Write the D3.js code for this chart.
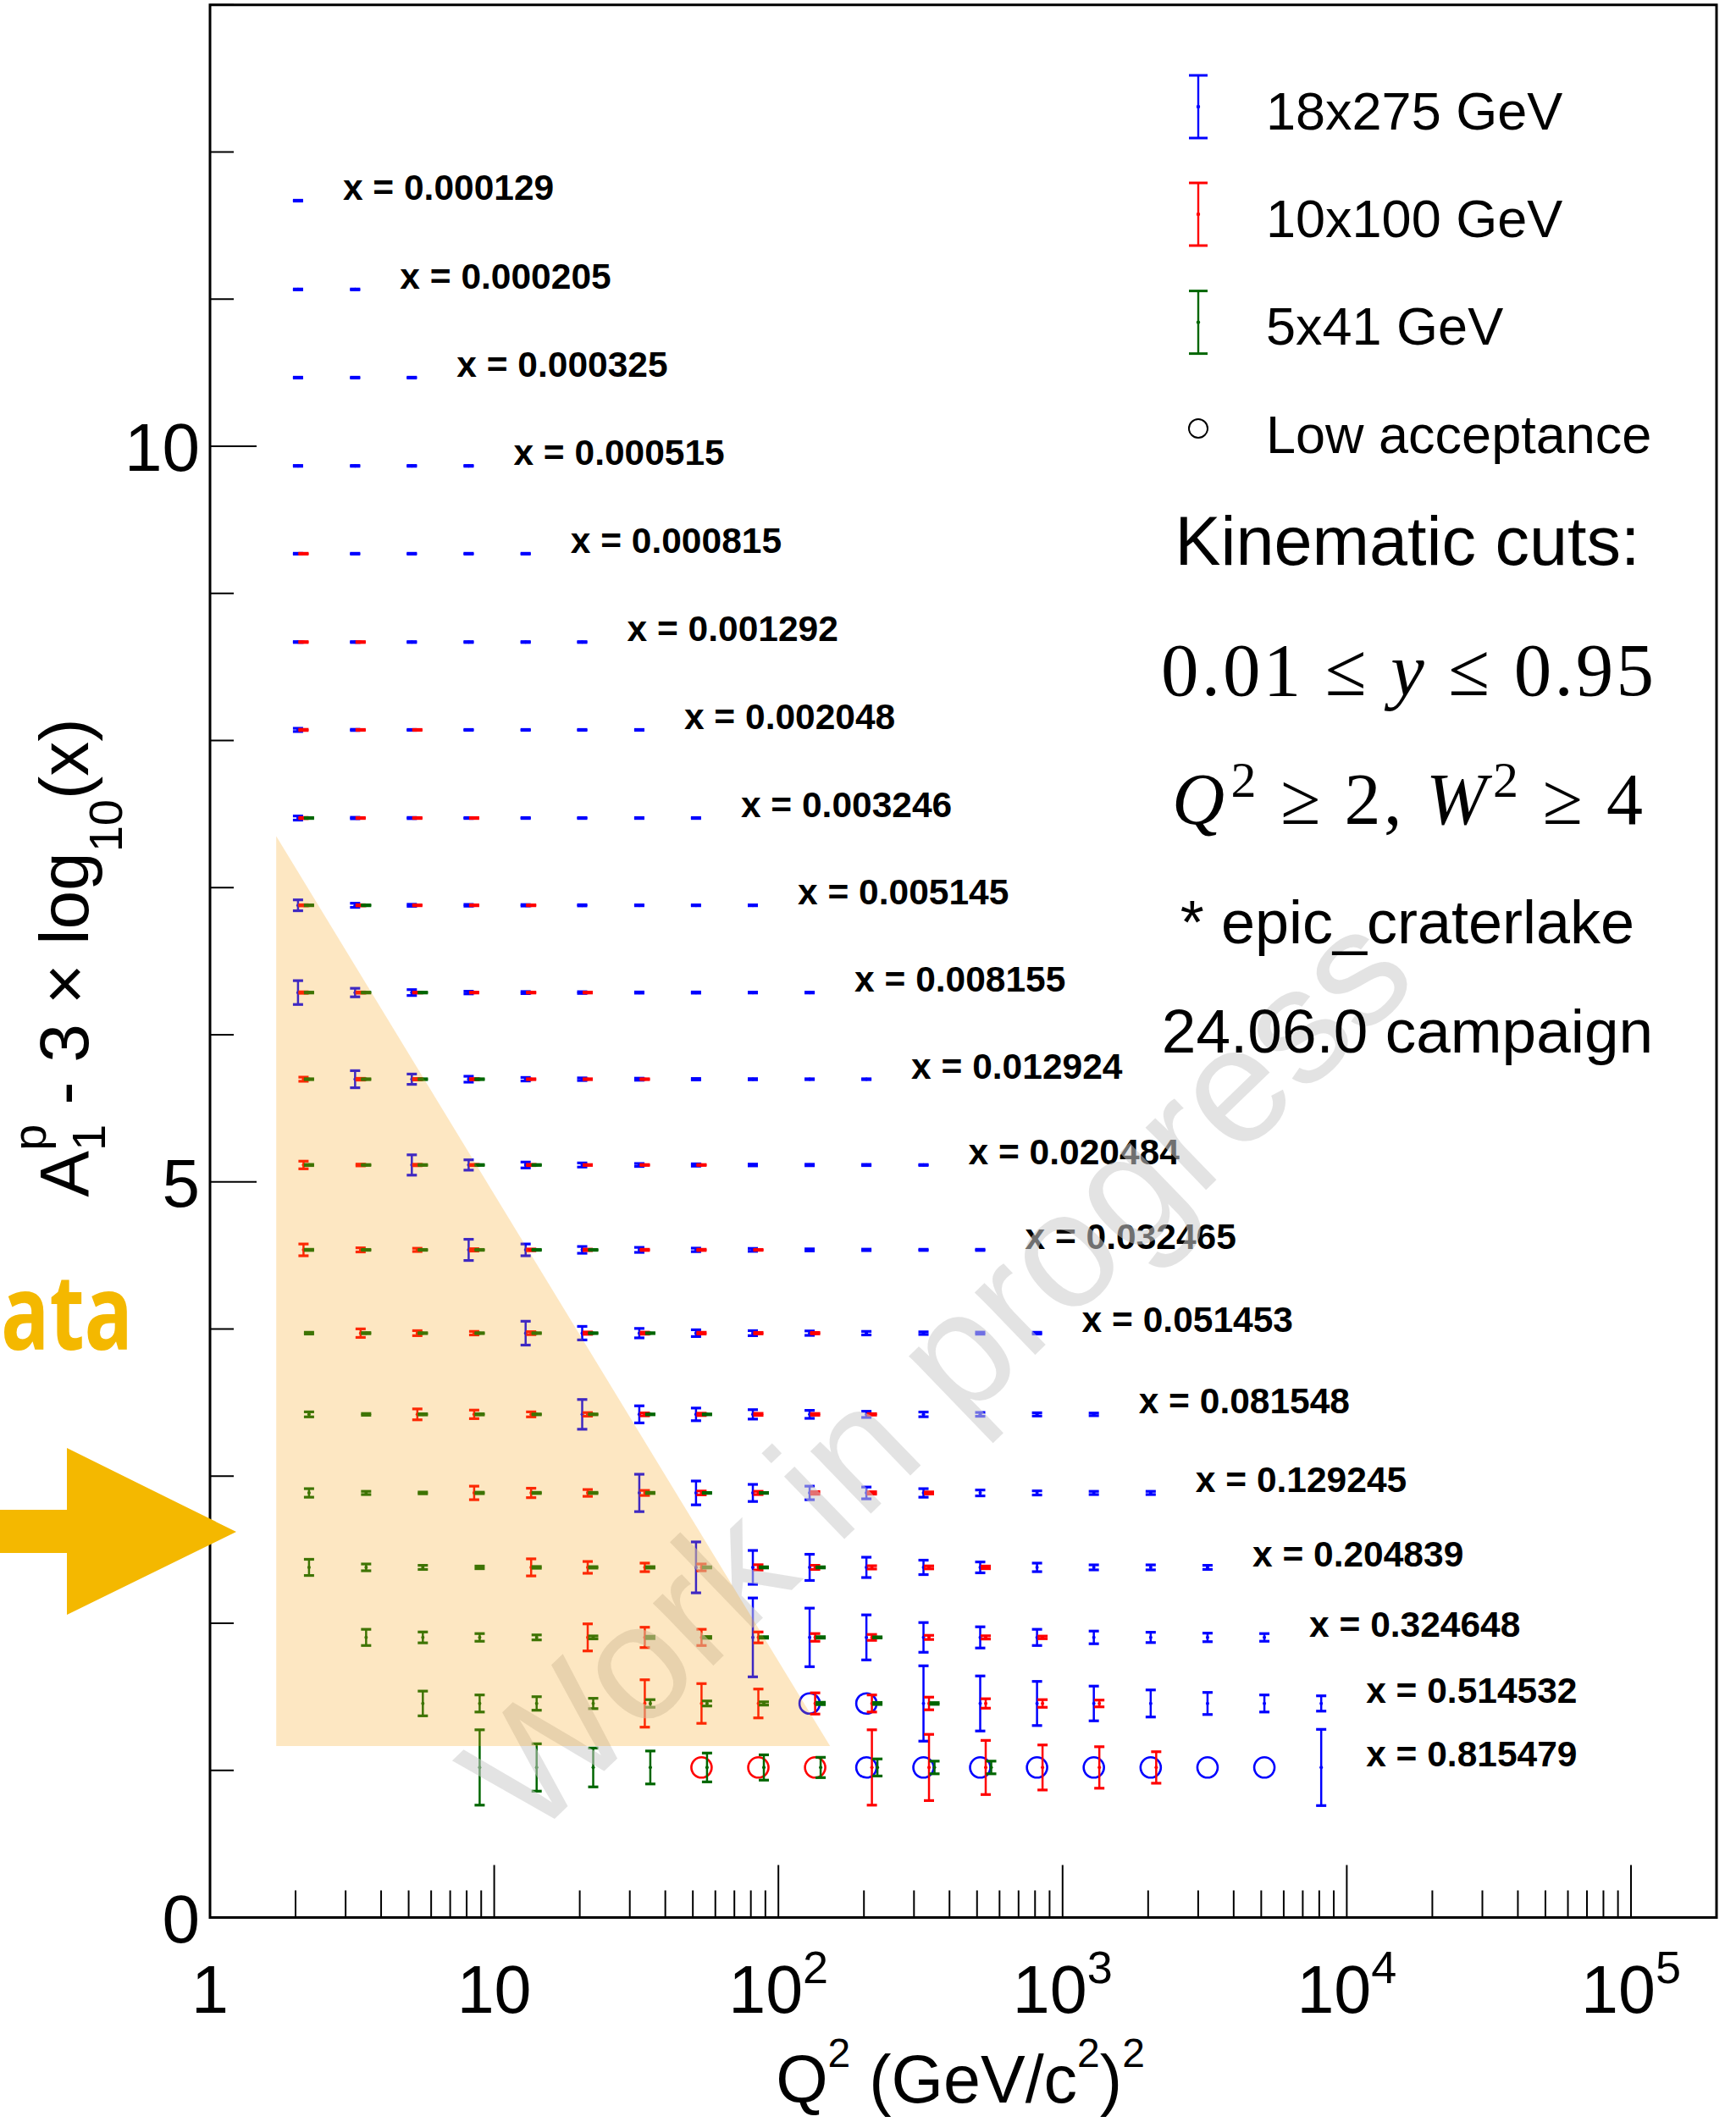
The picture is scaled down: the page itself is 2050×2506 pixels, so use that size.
<!DOCTYPE html>
<html><head><meta charset="utf-8">
<script src="https://cdn.jsdelivr.net/npm/d3@7"></script>
<style>body{margin:0;background:#fff}svg{display:block}</style>
</head><body>
<script>
// ---------------- DATA ----------------
const xBinLabels = ["0.000129","0.000205","0.000325","0.000515","0.000815","0.001292","0.002048","0.003246","0.005145","0.008155","0.012924","0.020484","0.032465","0.051453","0.081548","0.129245","0.204839","0.324648","0.514532","0.815479"];
const a1Values = [0.001,0.001,0.002,0.002,0.003,0.003,0.006,0.007,0.014,0.021,0.032,0.049,0.072,0.106,0.154,0.220,0.314,0.438,0.589,0.754];
const q2Centers = [2.04,3.24,5.13,8.13,12.9,20.4,32.4,51.3,81.3,128.8,204,324,513,813,1288,2042,3236,5129,8128];

const seriesNames = ["18x275 GeV","10x100 GeV","5x41 GeV"];
const seriesColors = ["#0000ff","#ff0000","#006600"];

const firstBin18x275 = [0,0,0,0,0,0,0,0,0,0,1,2,3,4,5,6,7,8,9,10];
const err18x275 = [
[0.003],
[0.003,0.003],
[0.003,0.003,0.003],
[0.003,0.003,0.003,0.003],
[0.003,0.003,0.003,0.003,0.003],
[0.003,0.003,0.003,0.003,0.003,0.003],
[0.011,0.004,0.003,0.003,0.003,0.003,0.003],
[0.014,0.005,0.004,0.003,0.003,0.003,0.003,0.003],
[0.037,0.014,0.007,0.006,0.005,0.004,0.003,0.003,0.003],
[0.081,0.029,0.020,0.009,0.007,0.006,0.004,0.004,0.003,0.003],
[0.058,0.035,0.020,0.012,0.009,0.007,0.005,0.004,0.003,0.003],
[0.069,0.035,0.020,0.014,0.010,0.008,0.006,0.005,0.004,0.003],
[0.072,0.040,0.023,0.017,0.012,0.010,0.007,0.005,0.004,0.004],
[0.081,0.046,0.032,0.023,0.017,0.015,0.012,0.009,0.007,0.006],
[0.101,0.058,0.043,0.032,0.027,0.021,0.016,0.013,0.011,0.009],
[0.127,0.081,0.058,0.046,0.040,0.029,0.020,0.014,0.011,0.011],
[0.173,0.115,0.089,0.069,0.049,0.037,0.029,0.017,0.017,0.014],
[0.268,0.199,0.153,0.101,0.072,0.055,0.043,0.035,0.029,0.026],
[null,null,0.256,0.187,0.150,0.118,0.092,0.075,0.058,0.052],
[null,null,null,null,null,null,null,null,0.259]
];
const lowAcc18x275 = [[18,9],[18,10],[19,10],[19,11],[19,12],[19,13],[19,14],[19,15],[19,16],[19,17]];

const firstBin10x100 = [null,null,null,null,0,0,0,0,0,0,0,0,0,1,2,3,4,5,6,7];
const err10x100 = [
[],[],[],[],
[0.003],
[0.003,0.003],
[0.004,0.003,0.003],
[0.004,0.003,0.003,0.003],
[0.004,0.004,0.003,0.003,0.003],
[0.005,0.004,0.003,0.003,0.003,0.003],
[0.014,0.006,0.005,0.004,0.003,0.003,0.003],
[0.026,0.006,0.005,0.004,0.004,0.003,0.003,0.003],
[0.040,0.014,0.011,0.008,0.006,0.005,0.004,0.004,0.003],
[0.029,0.017,0.012,0.010,0.008,0.007,0.006,0.005,0.005],
[0.037,0.029,0.017,0.012,0.010,0.008,0.007,0.006,0.005],
[0.046,0.032,0.023,0.017,0.013,0.011,0.009,0.008,0.007],
[0.058,0.040,0.029,0.023,0.018,0.014,0.011,0.010,0.009],
[0.092,0.069,0.055,0.037,0.026,0.020,0.014,0.011,0.009],
[0.161,0.135,0.098,0.072,0.058,0.043,0.032,0.026,0.023],
[null,null,null,0.256,0.225,0.184,0.153,0.141,0.107]
];
const lowAcc10x100 = [[19,7],[19,8],[19,9]];

const firstBin5x41 = [null,null,null,null,null,null,null,0,0,0,0,0,0,0,0,0,0,1,2,3];
const err5x41 = [
[],[],[],[],[],[],[],
[0.003],
[0.003,0.003],
[0.003,0.003,0.003],
[0.003,0.003,0.003,0.003],
[0.004,0.003,0.003,0.003,0.003],
[0.004,0.003,0.003,0.003,0.003,0.003],
[0.006,0.004,0.003,0.003,0.003,0.003,0.003],
[0.017,0.006,0.004,0.004,0.003,0.003,0.003,0.003],
[0.029,0.011,0.006,0.005,0.004,0.004,0.004,0.003,0.003],
[0.055,0.023,0.014,0.009,0.006,0.005,0.005,0.004,0.004,0.004],
[0.055,0.037,0.026,0.017,0.010,0.008,0.006,0.005,0.005,0.004],
[0.084,0.058,0.046,0.035,0.026,0.017,0.011,0.008,0.007,0.006],
[0.256,0.161,0.132,0.112,0.098,0.086,0.069,0.058,0.043,0.043]
];
const lowAcc5x41 = [];

const xTickValues = [1,10,100,1000,10000,100000];
const yTickValues = [0,5,10];
const xDomain = [1, 2e5];
const yDomain = [0, 13];
// shaded region (Q2, y) corners
const shadedRegion = [[1.71,7.35],[1.71,1.165],[152,1.165]];
const kinematicLines = ["Kinematic cuts:","* epic_craterlake","24.06.0 campaign"];

// ---------------- DRAW ----------------
const W = 2050, H = 2506;
const SANS = "'Liberation Sans', Arial, Helvetica, sans-serif";
const SERIF = "'Liberation Serif', 'Times New Roman', serif";
const svg = d3.select("body").append("svg").attr("width", W).attr("height", H)
  .style("font-family", SANS);

const x = d3.scaleLog().domain(xDomain).range([248, 2027]);
const y = d3.scaleLinear().domain(yDomain).range([2264.5, 5.75]);
const rowValue = r => a1Values[r] - 3 * Math.log10(+xBinLabels[r]);

const seriesData = [
  {first: firstBin18x275, err: err18x275, low: lowAcc18x275, dx: 0},
  {first: firstBin10x100, err: err10x100, low: lowAcc10x100, dx: 6.5},
  {first: firstBin5x41, err: err5x41, low: lowAcc5x41, dx: 13}
];

const gPts = svg.append("g");
const lastBin = xBinLabels.map(() => 0);
seriesData.forEach((s, si) => {
  const col = seriesColors[si];
  const g = gPts.append("g");
  const pts = [];
  s.err.forEach((row, r) => {
    if (s.first[r] === null) return;
    row.forEach((e, i) => {
      const k = s.first[r] + i;
      lastBin[r] = Math.max(lastBin[r], k);
      if (e !== null) pts.push({r, k, e});
    });
  });
  s.low.forEach(([r, k]) => { lastBin[r] = Math.max(lastBin[r], k); });
  const sel = g.selectAll("g.pt").data(pts).join("g").attr("class", "pt")
    .attr("transform", d => `translate(${x(q2Centers[d.k]) + s.dx},0)`);
  sel.append("line").attr("x1", 0).attr("x2", 0)
    .attr("y1", d => y(rowValue(d.r) + d.e)).attr("y2", d => y(rowValue(d.r) - d.e))
    .attr("stroke", col).attr("stroke-width", 2.5);
  sel.append("line").attr("x1", -6).attr("x2", 6)
    .attr("y1", d => y(rowValue(d.r) + d.e)).attr("y2", d => y(rowValue(d.r) + d.e))
    .attr("stroke", col).attr("stroke-width", 3.2);
  sel.append("line").attr("x1", -6).attr("x2", 6)
    .attr("y1", d => y(rowValue(d.r) - d.e)).attr("y2", d => y(rowValue(d.r) - d.e))
    .attr("stroke", col).attr("stroke-width", 3.2);
  sel.append("circle").attr("cx", 0).attr("cy", d => y(rowValue(d.r))).attr("r", 2).attr("fill", col);
  g.selectAll("circle.low").data(s.low).join("circle").attr("class", "low")
    .attr("cx", d => x(q2Centers[d[1]]) + s.dx).attr("cy", d => y(rowValue(d[0])))
    .attr("r", 12).attr("fill", "none").attr("stroke", col).attr("stroke-width", 2.6);
});

// row labels
svg.append("g").selectAll("text").data(xBinLabels).join("text")
  .attr("x", (d, r) => x(q2Centers[lastBin[r]]) + 53)
  .attr("y", (d, r) => y(rowValue(r)) - 1)
  .style("font-size", "42.5px").style("font-weight", "bold")
  .text(d => "x = " + d);

// watermark
svg.append("text").attr("transform", "translate(1152,1668) rotate(-44)")
  .attr("text-anchor", "middle").style("font-size", "194px")
  .attr("fill", "rgb(204,204,204)").attr("fill-opacity", 0.55)
  .text("Work in progress");

// shaded region
svg.append("path")
  .attr("d", d3.line()(shadedRegion.map(p => [x(p[0]), y(p[1])])) + "Z")
  .attr("fill", "rgb(247,160,10)").attr("fill-opacity", 0.25);

// legend
const legY = [126, 253, 380.6];
const lg = svg.append("g");
seriesNames.forEach((n, i) => {
  const cy = legY[i], c = seriesColors[i];
  lg.append("line").attr("x1", 1415).attr("x2", 1415).attr("y1", cy - 37).attr("y2", cy + 37).attr("stroke", c).attr("stroke-width", 2.4);
  lg.append("line").attr("x1", 1404).attr("x2", 1426).attr("y1", cy - 37).attr("y2", cy - 37).attr("stroke", c).attr("stroke-width", 3);
  lg.append("line").attr("x1", 1404).attr("x2", 1426).attr("y1", cy + 37).attr("y2", cy + 37).attr("stroke", c).attr("stroke-width", 3);
  lg.append("circle").attr("cx", 1415).attr("cy", cy).attr("r", 2.2).attr("fill", c);
  lg.append("text").attr("x", 1495).attr("y", cy + 26.5).style("font-size", "63px").text(n);
});
lg.append("circle").attr("cx", 1415).attr("cy", 506).attr("r", 11).attr("fill", "none").attr("stroke", "#000").attr("stroke-width", 2);
lg.append("text").attr("x", 1495).attr("y", 534.6).style("font-size", "63px").text("Low acceptance");

// kinematic text
const kx = 1662;
svg.append("text").attr("x", kx).attr("y", 667).attr("text-anchor", "middle").style("font-size", "81px").text(kinematicLines[0]);
const m1 = svg.append("text").attr("x", kx).attr("y", 821).attr("text-anchor", "middle")
  .style("font-family", SERIF).style("font-size", "89px")
  .attr("textLength", 582).attr("lengthAdjust", "spacing");
m1.append("tspan").text("0.01 \u2264 ");
m1.append("tspan").style("font-style", "italic").text("y");
m1.append("tspan").text(" \u2264 0.95");
const m2 = svg.append("text").attr("x", kx).attr("y", 973).attr("text-anchor", "middle")
  .style("font-family", SERIF).style("font-size", "86px")
  .attr("textLength", 556).attr("lengthAdjust", "spacing");
m2.append("tspan").style("font-style", "italic").text("Q");
m2.append("tspan").attr("dx", 4).attr("dy", -32).style("font-size", "60px").text("2");
m2.append("tspan").attr("dy", 32).text(" \u2265 2, ");
m2.append("tspan").style("font-style", "italic").text("W");
m2.append("tspan").attr("dx", 4).attr("dy", -32).style("font-size", "60px").text("2");
m2.append("tspan").attr("dy", 32).text(" \u2265 4");
svg.append("text").attr("x", kx).attr("y", 1113.5).attr("text-anchor", "middle").style("font-size", "72px").text(kinematicLines[1]);
svg.append("text").attr("x", kx).attr("y", 1243).attr("text-anchor", "middle").style("font-size", "73px").text(kinematicLines[2]);

// axes frame
const ax = svg.append("g");
ax.append("rect").attr("x", x(xDomain[0])).attr("y", y(yDomain[1]))
  .attr("width", x(xDomain[1]) - x(xDomain[0])).attr("height", y(yDomain[0]) - y(yDomain[1]))
  .attr("fill", "none").attr("stroke", "#000").attr("stroke-width", 3);
// y ticks
d3.range(yDomain[0], yDomain[1] + 1).forEach(v => {
  const major = yTickValues.includes(v);
  ax.append("line").attr("x1", 248).attr("x2", 248 + (major ? 55 : 28))
    .attr("y1", y(v)).attr("y2", y(v)).attr("stroke", "#000").attr("stroke-width", 2);
});
yTickValues.forEach(v => {
  ax.append("text").attr("x", 236).attr("y", y(v) + 29).attr("text-anchor", "end")
    .style("font-size", "80px").text(v);
});
// x ticks
xTickValues.forEach(d => {
  ax.append("line").attr("x1", x(d)).attr("x2", x(d)).attr("y1", 2264.5).attr("y2", 2264.5 - 62)
    .attr("stroke", "#000").attr("stroke-width", 2);
  for (let m = 2; m <= 9; m++) {
    const v = d * m;
    if (v >= xDomain[1]) break;
    ax.append("line").attr("x1", x(v)).attr("x2", x(v)).attr("y1", 2264.5).attr("y2", 2264.5 - 32)
      .attr("stroke", "#000").attr("stroke-width", 2);
  }
  const e = Math.round(Math.log10(d));
  const t = ax.append("text").attr("x", x(d)).attr("y", 2377).attr("text-anchor", "middle").style("font-size", "79px");
  if (e <= 1) t.text(e === 0 ? "1" : "10");
  else {
    t.append("tspan").text("10");
    t.append("tspan").attr("dy", -35).style("font-size", "54px").text(e);
  }
});

// axis titles
const xt = svg.append("text").attr("x", 1134).attr("y", 2483).attr("text-anchor", "middle").style("font-size", "79px");
xt.append("tspan").text("Q");
xt.append("tspan").attr("dy", -42).style("font-size", "48px").text("2");
xt.append("tspan").attr("dy", 42).text(" (GeV/c");
xt.append("tspan").attr("dy", -42).style("font-size", "48px").text("2");
xt.append("tspan").attr("dy", 42).text(")");
xt.append("tspan").attr("dy", -42).style("font-size", "48px").text("2");

const yt = svg.append("text").attr("transform", "translate(104,1131) rotate(-90)")
  .attr("text-anchor", "middle").style("font-size", "82px");
yt.append("tspan").text("A");
yt.append("tspan").attr("dy", 20).style("font-size", "56px").text("1");
yt.append("tspan").attr("dx", -31).attr("dy", -70).style("font-size", "56px").text("p");
yt.append("tspan").attr("dy", 50).text(" - 3 \u00d7 log");
yt.append("tspan").attr("dy", 40).style("font-size", "56px").text("10");
yt.append("tspan").attr("dy", -40).text("(x)");

// annotation arrow + text
const orange = "#f4b800";
svg.append("polygon")
  .attr("points", [[0,1783],[79,1783],[79,1710],[279,1809],[79,1907],[79,1834],[0,1834]].map(p => p.join(",")).join(" "))
  .attr("fill", orange);
svg.append("text").attr("x", 1).attr("y", 1594)
  .style("font-family", "'Open Sans', 'DejaVu Sans', sans-serif").style("font-weight", "bold")
  .style("font-size", "124px").attr("fill", orange)
  .attr("textLength", 156).attr("lengthAdjust", "spacingAndGlyphs").text("ata");
</script>
</body></html>
